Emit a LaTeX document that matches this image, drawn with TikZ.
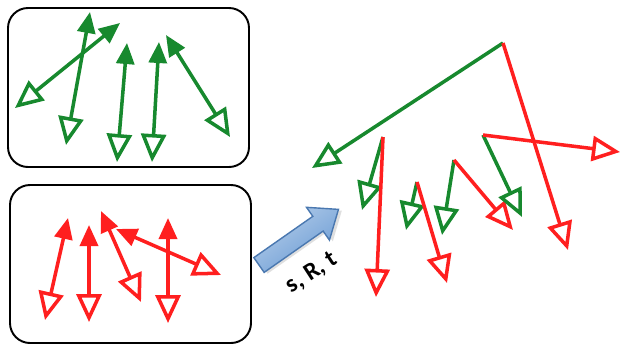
\documentclass[tikz,border=0pt]{standalone}
\usepackage{fontspec}
\setsansfont{Carlito}
\usetikzlibrary{arrows.meta}
\definecolor{cgreen}{HTML}{17892E}
\definecolor{cred}{HTML}{FF1F1F}
\definecolor{cblue}{HTML}{6A9BD4}
\definecolor{cblueline}{HTML}{4A78B0}
\tikzset{
  every picture/.style={x=0.02cm, y=-0.02cm},
  panel/.style={draw=black, line width=1.1pt, rounded corners=0.4cm},
  opentip/.tip={Triangle[open, length=5.6mm, width=5mm]},
  fulltip/.tip={Triangle[length=4.2mm, width=3.6mm]},
  frame/.style={draw=#1, line width=2pt, opentip-fulltip},
  vec/.style={draw=#1, line width=2pt, -opentip},
  label/.style={font=\sffamily\bfseries\fontsize{14}{16}\selectfont, text=black},
}
\begin{document}
\begin{tikzpicture}
  \useasboundingbox (0,0) rectangle (621,345);
  \draw[panel] (8,8) rectangle (249,167);
  \draw[panel] (10,185) rectangle (251,343);

  \coordinate (ga1) at (66,145);  \coordinate (gb1) at (90,12);
  \coordinate (ga2) at (15,108);  \coordinate (gb2) at (120,23);
  \coordinate (ga3) at (117,162); \coordinate (gb3) at (127,43);
  \coordinate (ga4) at (152,162); \coordinate (gb4) at (159,42);
  \coordinate (ga5) at (230,137); \coordinate (gb5) at (166,35);
  \foreach \a/\b in {ga1/gb1, ga2/gb2, ga3/gb3, ga4/gb4, ga5/gb5} \draw[frame=cgreen] (\a) -- (\b);

  \coordinate (ra1) at (45,320);  \coordinate (rb1) at (68,218);
  \coordinate (ra2) at (89,322);  \coordinate (rb2) at (89,225);
  \coordinate (ra3) at (141,302); \coordinate (rb3) at (101,211);
  \coordinate (ra4) at (221,275); \coordinate (rb4) at (116,229);
  \coordinate (ra5) at (168,323); \coordinate (rb5) at (168,218);
  \foreach \a/\b in {ra1/rb1, ra2/rb2, ra3/rb3, ra4/rb4, ra5/rb5} \draw[frame=cred] (\a) -- (\b);

  \begin{scope}[shift={(259,265)}, rotate=35]
    \fill[black!25, opacity=0.5, shift={(2,3)}] (0,-9) -- (72,-9) -- (72,-20) -- (97,0) -- (72,20) -- (72,9) -- (0,9) -- cycle;
    \draw[cblueline, line width=0.8pt, top color=cblue!50, bottom color=cblue, shading angle=35]
      (0,-9) -- (72,-9) -- (72,-20) -- (97,0) -- (72,20) -- (72,9) -- (0,9) -- cycle;
  \end{scope}
  \node[label, rotate=33] (srt) at (312,273) {s, R, t};

  \coordinate (o1) at (503,43);
  \coordinate (o2) at (383,137);
  \coordinate (o3) at (417,182);
  \coordinate (o4) at (454,160);
  \coordinate (o5) at (483,135);
  \coordinate (g1) at (312,168); \coordinate (r1) at (568,250);
  \coordinate (g2) at (362,210); \coordinate (r2) at (376,297);
  \coordinate (g3) at (406,230); \coordinate (r3) at (447,283);
  \coordinate (g4) at (442,235); \coordinate (r4) at (513,230);
  \coordinate (g5) at (522,217); \coordinate (r5) at (620,152);
  \foreach \o/\g/\r in {o1/g1/r1, o2/g2/r2, o3/g3/r3, o4/g4/r4, o5/g5/r5} {
    \draw[vec=cgreen] (\o) -- (\g);
    \draw[vec=cred] (\o) -- (\r);
  }
\end{tikzpicture}
\end{document}
